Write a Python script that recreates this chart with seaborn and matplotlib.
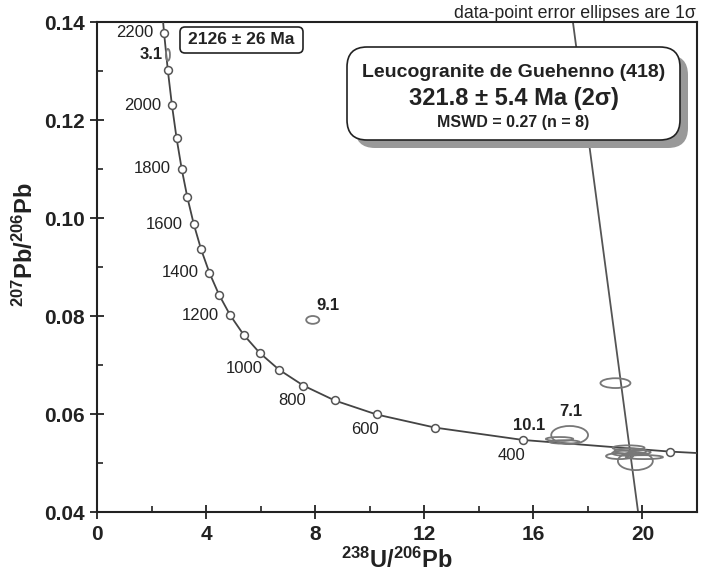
import numpy as np
import pandas as pd
import matplotlib
matplotlib.use("Agg")
import matplotlib.pyplot as plt
from matplotlib.patches import Ellipse, FancyBboxPatch
from matplotlib.ticker import MultipleLocator, FormatStrFormatter
import seaborn as sns

# decay constants (1/yr) and present 238U/235U
LAMBDA238 = 1.55125e-10
LAMBDA235 = 9.8485e-10
U_RATIO = 137.88

# concordia age marks (Ma)
marker_ages = [300, 400, 500, 600, 700, 800, 900, 1000, 1100, 1200, 1300,
               1400, 1500, 1600, 1700, 1800, 1900, 2000, 2100, 2200]
curve_ages = [280] + marker_ages + [2260]
left_label_ages = [2200, 2000, 1800, 1600, 1400, 1200]
below_label_ages = [1000, 800, 600, 400]

# data-point ellipses (1 sigma)
ell_x = [2.60, 7.91, 16.96, 17.14, 17.33, 19.01, 19.49, 19.16, 19.74, 20.07, 19.56, 19.34, 19.90]
ell_y = [0.1333, 0.0792, 0.0549, 0.0543, 0.0557, 0.0663, 0.0531, 0.0514, 0.0504, 0.0512, 0.0524, 0.0520, 0.0522]
ell_w = [0.15, 0.48, 1.00, 1.10, 1.35, 1.10, 1.17, 0.99, 1.28, 1.36, 1.17, 0.90, 0.80]
ell_h = [0.0024, 0.0016, 0.0008, 0.0007, 0.0037, 0.0020, 0.0010, 0.0012, 0.0037, 0.0008, 0.0012, 0.0010, 0.0008]

spot_names = ["3.1", "9.1", "10.1", "7.1"]
spot_lx = [2.42, 8.46, 15.86, 17.36]
spot_ly = [0.1333, 0.0822, 0.0576, 0.0606]
spot_ha = ["right", "center", "center", "center"]

# common-Pb / discordia line
disc_x = [17.45, 19.84]
disc_y = [0.14, 0.04]


def tw_concordia(age_ma):
    t = np.asarray(age_ma, dtype=float) * 1e6
    e8 = np.exp(LAMBDA238 * t) - 1
    e5 = np.exp(LAMBDA235 * t) - 1
    return 1 / e8, e5 / e8 / U_RATIO


sns.set_style("ticks")
plt.rcParams["font.family"] = ["Liberation Sans", "DejaVu Sans"]
plt.rcParams["mathtext.fontset"] = "custom"
plt.rcParams["mathtext.rm"] = "Liberation Sans:bold"
plt.rcParams["mathtext.default"] = "rm"

cx, cy = tw_concordia(curve_ages)
mx, my = tw_concordia(marker_ages)
curve = pd.DataFrame({"x": cx, "y": cy})
marks = pd.DataFrame({"age": marker_ages, "x": mx, "y": my})

fig = plt.figure(figsize=(7.05, 5.82), dpi=100)
ax = fig.add_axes([97 / 705, 70 / 582, 600 / 705, 490 / 582])

sns.lineplot(data=curve, x="x", y="y", sort=False, color="#444444", lw=1.3, ax=ax, zorder=3)
ax.plot(disc_x, disc_y, color="#555555", lw=1.3, zorder=2)

for x, y, w, h in zip(ell_x, ell_y, ell_w, ell_h):
    ax.add_patch(Ellipse((x, y), w, h, fill=False, ec="#777777", lw=1.3, zorder=4))

sns.scatterplot(data=marks, x="x", y="y", marker="o", s=32, color="white",
                edgecolor="#555555", linewidth=1.1, ax=ax, zorder=5)

for _, r in marks.iterrows():
    if r["age"] in left_label_ages:
        ax.annotate(f"{int(r['age'])}", (r["x"], r["y"]), xytext=(-8, 0),
                    textcoords="offset points", ha="right", va="center",
                    fontsize=12, color="#222222")
    elif r["age"] in below_label_ages:
        ax.annotate(f"{int(r['age'])}", (r["x"], r["y"]), xytext=(2, -11),
                    textcoords="offset points", ha="right", va="center",
                    fontsize=12, color="#222222")

for name, x, y, ha in zip(spot_names, spot_lx, spot_ly, spot_ha):
    ax.text(x, y, name, ha=ha, va="center", fontsize=12, fontweight="bold", color="#222222")

ax.set_xlim(0, 22)
ax.set_ylim(0.04, 0.14)
ax.xaxis.set_major_locator(MultipleLocator(4))
ax.xaxis.set_minor_locator(MultipleLocator(2))
ax.yaxis.set_major_locator(MultipleLocator(0.02))
ax.yaxis.set_minor_locator(MultipleLocator(0.01))
ax.yaxis.set_major_formatter(FormatStrFormatter("%.2f"))
ax.tick_params(which="major", direction="inout", length=10, width=1.3, colors="#222222",
               labelsize=15, pad=4)
ax.tick_params(which="minor", direction="in", length=4, width=1.2, colors="#222222")
for lab in ax.get_xticklabels() + ax.get_yticklabels():
    lab.set_fontweight("bold")
for sp in ax.spines.values():
    sp.set_visible(True)
    sp.set_linewidth(1.5)
    sp.set_color("#222222")

ax.set_xlabel(r"$^{238}$U/$^{206}$Pb", fontsize=17, fontweight="bold", color="#222222")
ax.set_ylabel(r"$^{207}$Pb/$^{206}$Pb", fontsize=17, fontweight="bold", color="#222222")
ax.xaxis.set_label_coords(0.5, -0.072)
ax.yaxis.set_label_coords(-0.098, 0.545)

inch = fig.dpi_scale_trans
# small upper-intercept box
fig.patches.append(FancyBboxPatch((1.80, 5.29), 1.23, 0.26, boxstyle="round,pad=0,rounding_size=0.05",
                                  transform=inch, fc="white", ec="#222222", lw=1.2, zorder=6))
fig.text(2.415, 5.42, "2126 ± 26 Ma", transform=inch, ha="center", va="center",
         fontsize=12.5, fontweight="bold", color="#222222", zorder=7)

# main result box with shadow
fig.patches.append(FancyBboxPatch((3.55, 4.34), 3.33, 0.93, boxstyle="round,pad=0,rounding_size=0.2",
                                  transform=inch, fc="#999999", ec="none", zorder=5))
fig.patches.append(FancyBboxPatch((3.47, 4.42), 3.33, 0.93, boxstyle="round,pad=0,rounding_size=0.2",
                                  transform=inch, fc="white", ec="#222222", lw=1.2, zorder=6))
fig.text(5.135, 5.10, "Leucogranite de Guehenno (418)", transform=inch, ha="center", va="center",
         fontsize=14, fontweight="bold", color="#222222", zorder=7)
fig.text(5.135, 4.83, "321.8 ± 5.4 Ma (2σ)", transform=inch, ha="center", va="center",
         fontsize=17, fontweight="bold", color="#222222", zorder=7)
fig.text(5.135, 4.60, "MSWD = 0.27 (n = 8)", transform=inch, ha="center", va="center",
         fontsize=11.5, fontweight="bold", color="#222222", zorder=7)

fig.text(6.96, 5.69, "data-point error ellipses are 1σ", transform=inch, ha="right", va="center",
         fontsize=12.8, color="#222222")

fig.savefig("out.png", dpi=100)
